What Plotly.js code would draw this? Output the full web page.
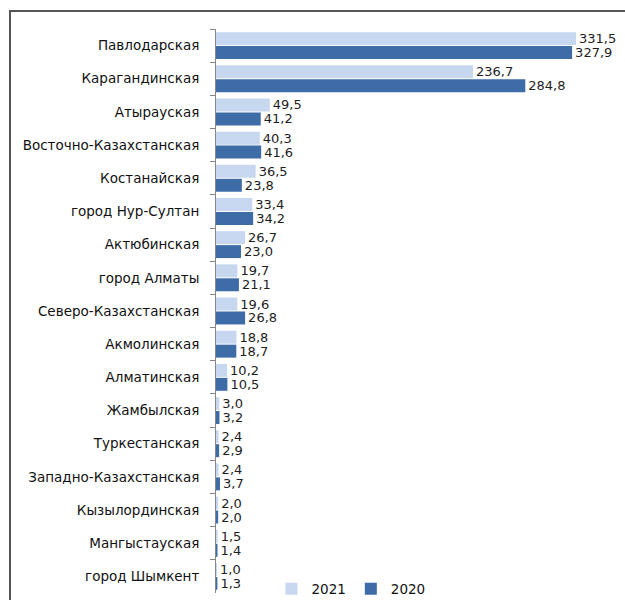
<!DOCTYPE html>
<html>
<head>
<meta charset="utf-8">
<script src="https://cdn.plot.ly/plotly-3.0.1.min.js"></script>
<style>
  html, body { margin: 0; padding: 0; background: #fff; }
  #wrap { position: relative; width: 625px; height: 600px; overflow: hidden; }
  #chart { position: absolute; left: 0; top: 0; width: 625px; height: 600px; }
  #frame { position: absolute; left: 9px; top: 10px; width: 640px; height: 620px;
           border-left: 2px solid #555; border-top: 2px solid #555; pointer-events: none; }
</style>
</head>
<body>
<div id="wrap">
  <div id="chart"></div>
  <div id="frame"></div>
</div>
<script>
const regions = [
  "Павлодарская", "Карагандинская", "Атырауская", "Восточно-Казахстанская",
  "Костанайская", "город Нур-Султан", "Актюбинская", "город Алматы",
  "Северо-Казахстанская", "Акмолинская", "Алматинская", "Жамбылская",
  "Туркестанская", "Западно-Казахстанская", "Кызылординская", "Мангыстауская",
  "город Шымкент"
];
const values2021 = [331.5, 236.7, 49.5, 40.3, 36.5, 33.4, 26.7, 19.7, 19.6, 18.8, 10.2, 3.0, 2.4, 2.4, 2.0, 1.5, 1.0];
const values2020 = [327.9, 284.8, 41.2, 41.6, 23.8, 34.2, 23.0, 21.1, 26.8, 18.7, 10.5, 3.2, 2.9, 3.7, 2.0, 1.4, 1.3];
const seriesNames = ["2021", "2020"];

const fmt = v => v.toFixed(1).replace('.', ',');
const labelFont = { family: "DejaVu Sans, sans-serif", size: 13, color: "#1e1e1e" };
const tickFont = { family: "DejaVu Sans, sans-serif", size: 13.5, color: "#111" };

const traces = [
  {
    type: 'bar', orientation: 'h', name: seriesNames[0],
    x: values2021, y: regions,
    marker: { color: '#c6d7ef' },
    text: values2021.map(fmt), textposition: 'outside', cliponaxis: false,
    constraintext: 'none', textfont: labelFont, hoverinfo: 'x+y'
  },
  {
    type: 'bar', orientation: 'h', name: seriesNames[1],
    x: values2020, y: regions,
    marker: { color: '#3d6ca6' },
    text: values2020.map(fmt), textposition: 'outside', cliponaxis: false,
    constraintext: 'none', textfont: labelFont, hoverinfo: 'x+y'
  }
];

const layout = {
  width: 625, height: 600,
  margin: { l: 216, r: 0, t: 29, b: 7, autoexpand: false },
  paper_bgcolor: '#fff', plot_bgcolor: '#fff',
  barmode: 'group', bargap: 0.16, bargroupgap: 0.07,
  showlegend: true,
  legend: {
    orientation: 'h', x: 0.33, xanchor: 'center', y: -0.0205, yanchor: 'bottom',
    font: tickFont, itemwidth: 30, traceorder: 'normal', bgcolor: 'rgba(0,0,0,0)'
  },
  xaxis: { range: [0, 376.6], visible: false, fixedrange: true },
  yaxis: {
    type: 'category', autorange: 'reversed',
    showline: true, linecolor: '#868686', linewidth: 1,
    ticks: 'outside', tickson: 'boundaries', ticklen: 5, tickcolor: '#868686',
    ticklabelstandoff: 13,
    tickfont: tickFont, showgrid: false, zeroline: false
  }
};

Plotly.newPlot('chart', traces, layout, { displayModeBar: false, staticPlot: true });
</script>
</body>
</html>
